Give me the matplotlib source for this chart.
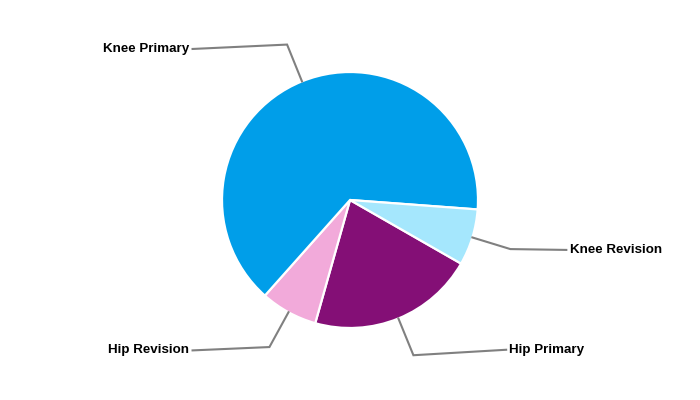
import numpy as np
import matplotlib
matplotlib.use("Agg")
import matplotlib.pyplot as plt

categories = ["Hip Primary", "Hip Revision", "Knee Primary", "Knee Revision"]
shares = [21.1, 7.2, 64.6, 7.1]
colors = ["#840f76", "#f2aada", "#009ee9", "#a5e7fd"]

# label anchor (x, y) in pie-radius units and side
label_pos = {
    "Hip Primary": (1.22, -1.17, "left"),
    "Hip Revision": (-1.23, -1.175, "right"),
    "Knee Primary": (-1.23, 1.18, "right"),
    "Knee Revision": (1.69, -0.39, "left"),
}

fig = plt.figure(figsize=(7, 4), dpi=100)
ax = fig.add_axes([0, 0, 1, 1])

wedges, _ = ax.pie(shares, colors=colors, startangle=-29.8, counterclock=False,
                   radius=1.0, wedgeprops=dict(edgecolor="white", linewidth=1.6))
ax.set_xlim(-350 / 128, 350 / 128)
ax.set_ylim(-200 / 128, 200 / 128)
ax.set_aspect("equal")
ax.axis("off")

for w, name in zip(wedges, categories):
    mid = np.deg2rad((w.theta1 + w.theta2) / 2)
    x0, y0 = np.cos(mid), np.sin(mid)
    xe, ye = 1.31 * x0, 1.31 * y0
    lx, ly, side = label_pos[name]
    ax.plot([x0, xe, lx], [y0, ye, ly], color="#808080", lw=1.5,
            solid_joinstyle="miter", zorder=1)
    off = 0.025 if side == "left" else -0.025
    ax.text(lx + off, ly, name, ha=side, va="center", fontsize=9.6,
            fontweight="bold", family="Liberation Sans", color="black")

fig.savefig("out.png", dpi=100)
